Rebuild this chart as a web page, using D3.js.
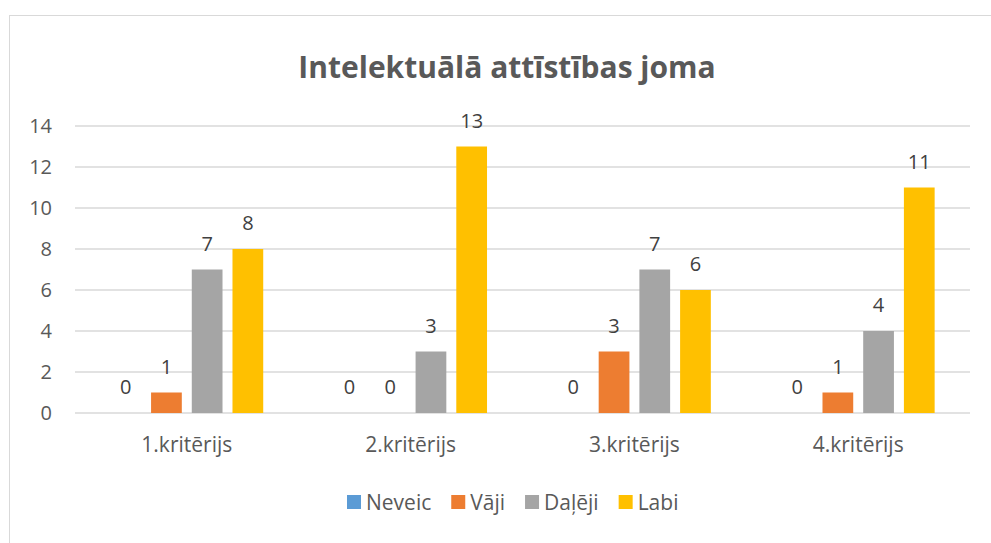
<!DOCTYPE html>
<html>
<head>
<meta charset="utf-8">
<script src="https://cdn.jsdelivr.net/npm/d3@7"></script>
<style>
  body { margin: 0; background: #fff; }
  text { font-family: "Open Sans", "Noto Sans", sans-serif; }
</style>
</head>
<body>
<svg id="chart" width="991" height="543"></svg>
<script>
const categories = ["1.kritērijs", "2.kritērijs", "3.kritērijs", "4.kritērijs"];
const seriesNames = ["Neveic", "Vāji", "Daļēji", "Labi"];
const neveic = [0, 0, 0, 0];
const vaji = [1, 0, 3, 1];
const daleji = [7, 3, 7, 4];
const labi = [8, 13, 6, 11];
const yTicks = [0, 2, 4, 6, 8, 10, 12, 14];
const colors = ["#5b9bd5", "#ed7d31", "#a5a5a5", "#ffc000"];

const seriesValues = [neveic, vaji, daleji, labi];

const svg = d3.select("#chart");
const margin = { left: 75, right: 21, top: 126, bottom: 130 };
const width = 991, height = 543;

// chart frame
svg.append("rect")
  .attr("x", 9.5).attr("y", 15.5)
  .attr("width", 1000).attr("height", 600)
  .attr("fill", "none").attr("stroke", "#d9d9d9");

const x0 = d3.scaleBand()
  .domain(categories)
  .range([margin.left, width - margin.right])
  .paddingInner(0.317)
  .paddingOuter(0.158);

const x1 = d3.scaleBand()
  .domain(seriesNames)
  .range([0, x0.bandwidth()])
  .paddingInner(0.245);

const y = d3.scaleLinear()
  .domain([0, 14])
  .range([height - margin.bottom, margin.top]);

// gridlines
svg.append("g")
  .selectAll("line")
  .data(yTicks)
  .enter().append("line")
    .attr("x1", margin.left).attr("x2", width - margin.right)
    .attr("y1", d => y(d)).attr("y2", d => y(d))
    .attr("stroke", "#d9d9d9").attr("stroke-width", 1.3);

// y tick labels
svg.append("g")
  .selectAll("text")
  .data(yTicks)
  .enter().append("text")
    .attr("x", 52).attr("y", d => y(d))
    .attr("dy", "0.35em")
    .attr("text-anchor", "end")
    .attr("font-size", 20)
    .attr("fill", "#595959")
    .text(d => d);

// category labels
svg.append("g")
  .selectAll("text")
  .data(categories)
  .enter().append("text")
    .attr("x", d => x0(d) + x0.bandwidth() / 2)
    .attr("y", 452)
    .attr("text-anchor", "middle")
    .attr("font-size", 21)
    .attr("fill", "#595959")
    .text(d => d);

// bars
const rows = [];
categories.forEach((c, i) => {
  seriesNames.forEach((s, j) => {
    rows.push({ cat: c, series: s, value: seriesValues[j][i], color: colors[j] });
  });
});

svg.append("g")
  .selectAll("rect")
  .data(rows)
  .enter().append("rect")
    .attr("x", d => x0(d.cat) + x1(d.series))
    .attr("y", d => y(d.value))
    .attr("width", x1.bandwidth())
    .attr("height", d => y(0) - y(d.value))
    .attr("fill", d => d.color);

// value labels
svg.append("g")
  .selectAll("text")
  .data(rows)
  .enter().append("text")
    .attr("x", d => x0(d.cat) + x1(d.series) + x1.bandwidth() / 2)
    .attr("y", d => y(d.value) - 19)
    .attr("text-anchor", "middle")
    .attr("font-size", 20)
    .attr("fill", "#404040")
    .text(d => d.value);

// title
svg.append("text")
  .attr("x", 507).attr("y", 78)
  .attr("text-anchor", "middle")
  .attr("font-size", 30)
  .attr("font-weight", "bold")
  .attr("fill", "#595959")
  .text("Intelektuālā attīstības joma");

// legend
const legend = svg.append("g");
let lx = 347;
seriesNames.forEach((s, j) => {
  legend.append("rect")
    .attr("x", lx).attr("y", 495)
    .attr("width", 14).attr("height", 14)
    .attr("fill", colors[j]);
  const t = legend.append("text")
    .attr("x", lx + 19).attr("y", 510)
    .attr("font-size", 21)
    .attr("fill", "#595959")
    .text(s);
  lx += 19 + t.node().getComputedTextLength() + 20;
});
</script>
</body>
</html>
